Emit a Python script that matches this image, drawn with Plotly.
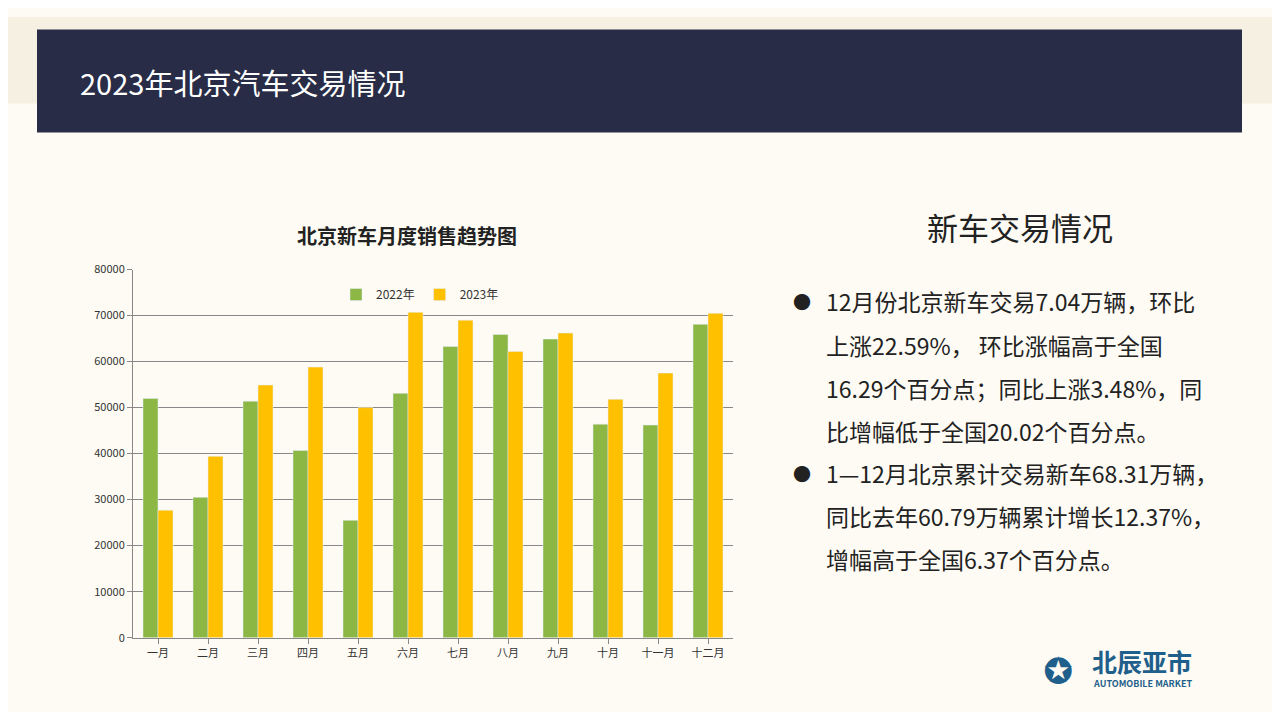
import plotly.graph_objects as go

months = ["一月", "二月", "三月", "四月", "五月", "六月", "七月", "八月", "九月", "十月", "十一月", "十二月"]
sales_2022 = [52000, 30500, 51400, 40700, 25500, 53100, 63300, 65900, 64900, 46400, 46200, 68100]
sales_2023 = [27700, 39400, 54900, 58800, 50000, 70700, 69000, 62200, 66200, 51800, 57500, 70500]

# page has an 8px body margin, so the figure is sized to fit inside it
W, H = 1264, 704
def px(x): return (x - 8) / W
def py(y):
    y = (y - 8.7) / 0.977  # small vertical correction for how the page is shown
    return 1 - (y - 8) / H

fig = go.Figure()
fig.add_trace(go.Bar(x=months, y=sales_2022, name="2022年", marker_color="#8DB744"))
fig.add_trace(go.Bar(x=months, y=sales_2023, name="2023年", marker_color="#FFC000"))

fig.update_layout(
    width=W, height=H, margin=dict(l=0, r=0, t=0, b=0),
    paper_bgcolor="#FDFBF4", plot_bgcolor="#FDFBF4",
    font=dict(family="Noto Sans CJK SC", color="#333"),
    barmode="group", bargap=0.4, bargroupgap=0,
    showlegend=True,
    legend=dict(orientation="h", x=px(420), xanchor="center", y=py(294), yanchor="middle",
                font=dict(size=12), bgcolor="rgba(0,0,0,0)"),
    xaxis=dict(domain=[px(133), px(733)], showline=True, linecolor="#888",
               ticks="outside", tickcolor="#888", tickfont=dict(size=11)),
    yaxis=dict(domain=[py(637), py(269)], range=[0, 80000], dtick=10000, tickformat="d",
               showgrid=True, gridcolor="#888", showline=True, linecolor="#888",
               ticks="outside", tickcolor="#888", tickfont=dict(size=11), zeroline=False),
)

# header and backdrop
fig.add_shape(type="rect", xref="paper", yref="paper", x0=0, x1=1, y0=py(103), y1=1,
              fillcolor="#F5F0E1", line_width=0, layer="below")
fig.add_shape(type="rect", xref="paper", yref="paper", x0=px(37), x1=px(1242), y0=py(132), y1=py(29),
              fillcolor="#282C46", line_width=0)

ann = [
    dict(x=px(78), y=py(81), text="2023年北京汽车交易情况", xanchor="left",
         font=dict(size=29, color="white")),
    dict(x=px(407), y=py(235), text="<b>北京新车月度销售趋势图</b>", font=dict(size=20, color="#222")),
    dict(x=px(1020), y=py(226), text="新车交易情况", font=dict(size=31, color="#222")),
]
lines = [
    (300, "12月份北京新车交易7.04万辆，环比", True),
    (344, "上涨22.59%， 环比涨幅高于全国", False),
    (387, "16.29个百分点；同比上涨3.48%，同", False),
    (430, "比增幅低于全国20.02个百分点。", False),
    (472, "1—12月北京累计交易新车68.31万辆，", True),
    (515, "同比去年60.79万辆累计增长12.37%，", False),
    (558, "增幅高于全国6.37个百分点。", False),
]
for y, t, bullet in lines:
    ann.append(dict(x=px(824), y=py(y), text=t, xanchor="left",
                    font=dict(size=23, color="#222")))
    if bullet:
        ann.append(dict(x=px(802), y=py(y), text="●", font=dict(size=18, color="#222")))
ann += [
    dict(x=px(1142), y=py(660), text="<b>北辰亚市</b>", font=dict(size=25, color="#1F5F8B")),
    dict(x=px(1142), y=py(683), text="<b>AUTOMOBILE MARKET</b>", font=dict(size=9, color="#1F5F8B")),
    dict(x=px(1058), y=py(668), text="<b>✪</b>", font=dict(size=34, color="#1F5F8B")),
]
for a in ann:
    a.setdefault("xanchor", "center")
    fig.add_annotation(xref="paper", yref="paper", yanchor="middle", showarrow=False, **a)

fig.write_html("out.html")
